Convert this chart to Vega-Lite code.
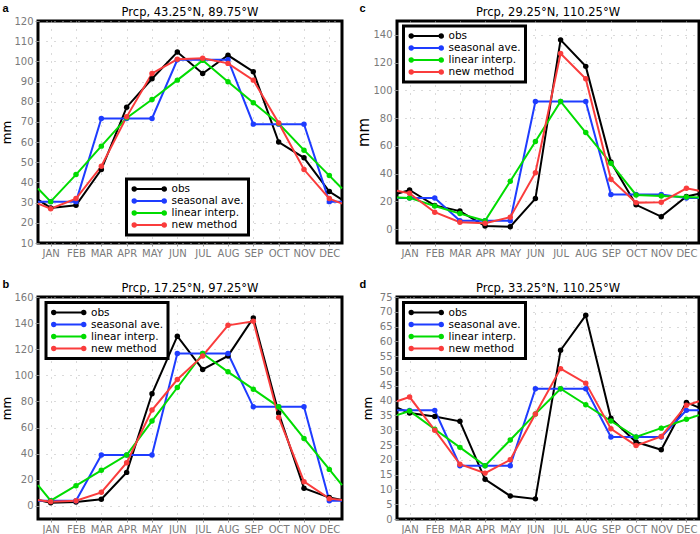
{
  "$schema": "https://vega.github.io/schema/vega-lite/v6.json",
  "padding": {"left": -2, "top": 0, "right": 0, "bottom": 0},
  "background": "white",
  "bounds": "flush",
  "columns": 2,
  "spacing": {"row": 54, "column": 55},
  "datasets": {
    "d": [
      {"p": "a", "m": 0.5, "obs": 31.5, "sea": 30.5, "lin": 37, "new": 29.5},
      {"p": "a", "m": 1, "obs": 27.4, "sea": 30.5, "lin": 30.5, "new": 27},
      {"p": "a", "m": 2, "obs": 28.7, "sea": 30.5, "lin": 43.9, "new": 32},
      {"p": "a", "m": 3, "obs": 46.4, "sea": 71.7, "lin": 58, "new": 48},
      {"p": "a", "m": 4, "obs": 77.3, "sea": 71.7, "lin": 72, "new": 72.5},
      {"p": "a", "m": 5, "obs": 91.4, "sea": 71.7, "lin": 81.1, "new": 94},
      {"p": "a", "m": 6, "obs": 104.6, "sea": 100.8, "lin": 90.7, "new": 101},
      {"p": "a", "m": 7, "obs": 94, "sea": 100.8, "lin": 100.5, "new": 101.5},
      {"p": "a", "m": 8, "obs": 103, "sea": 100.8, "lin": 89.9, "new": 99},
      {"p": "a", "m": 9, "obs": 94.9, "sea": 68.9, "lin": 79.5, "new": 90.7},
      {"p": "a", "m": 10, "obs": 60, "sea": 68.9, "lin": 69.2, "new": 69.5},
      {"p": "a", "m": 11, "obs": 52.2, "sea": 68.9, "lin": 56, "new": 46.4},
      {"p": "a", "m": 12, "obs": 35.5, "sea": 30.5, "lin": 43.4, "new": 32},
      {"p": "a", "m": 12.5, "obs": 31.5, "sea": 30.5, "lin": 37, "new": 29.5},
      {"p": "c", "m": 0.5, "obs": 25.5, "sea": 22.5, "lin": 22.8, "new": 27.6},
      {"p": "c", "m": 1, "obs": 28.2, "sea": 22.5, "lin": 22.5, "new": 25.8},
      {"p": "c", "m": 2, "obs": 17, "sea": 22.5, "lin": 16.7, "new": 12.2},
      {"p": "c", "m": 3, "obs": 13, "sea": 6, "lin": 11.2, "new": 5},
      {"p": "c", "m": 4, "obs": 2.2, "sea": 6, "lin": 6, "new": 4.3},
      {"p": "c", "m": 5, "obs": 1.7, "sea": 6, "lin": 34.5, "new": 8.6},
      {"p": "c", "m": 6, "obs": 22, "sea": 92, "lin": 63.2, "new": 40.7},
      {"p": "c", "m": 7, "obs": 136.4, "sea": 92, "lin": 92, "new": 126.6},
      {"p": "c", "m": 8, "obs": 117.3, "sea": 92, "lin": 69.6, "new": 108.4},
      {"p": "c", "m": 9, "obs": 48.3, "sea": 25, "lin": 47.4, "new": 35.9},
      {"p": "c", "m": 10, "obs": 17.5, "sea": 25, "lin": 24.6, "new": 19.1},
      {"p": "c", "m": 11, "obs": 9, "sea": 25, "lin": 23.9, "new": 19.4},
      {"p": "c", "m": 12, "obs": 23.5, "sea": 22.5, "lin": 23.2, "new": 29.4},
      {"p": "c", "m": 12.5, "obs": 25.5, "sea": 22.5, "lin": 22.8, "new": 27.6},
      {"p": "b", "m": 0.5, "obs": 4.5, "sea": 4, "lin": 16, "new": 4.5},
      {"p": "b", "m": 1, "obs": 2.5, "sea": 4, "lin": 4, "new": 3.3},
      {"p": "b", "m": 2, "obs": 3, "sea": 4, "lin": 15.5, "new": 4},
      {"p": "b", "m": 3, "obs": 5.1, "sea": 39, "lin": 27.3, "new": 10.4},
      {"p": "b", "m": 4, "obs": 25.7, "sea": 39, "lin": 39, "new": 33.1},
      {"p": "b", "m": 5, "obs": 85.9, "sea": 39, "lin": 65, "new": 73.4},
      {"p": "b", "m": 6, "obs": 130, "sea": 116.7, "lin": 90.7, "new": 96.8},
      {"p": "b", "m": 7, "obs": 104.5, "sea": 116.7, "lin": 116.7, "new": 114.9},
      {"p": "b", "m": 8, "obs": 114.9, "sea": 116.7, "lin": 102.7, "new": 138.3},
      {"p": "b", "m": 9, "obs": 144, "sea": 75.9, "lin": 89.4, "new": 141.4},
      {"p": "b", "m": 10, "obs": 71.1, "sea": 75.9, "lin": 75.9, "new": 67.8},
      {"p": "b", "m": 11, "obs": 13.5, "sea": 75.9, "lin": 51.7, "new": 18.6},
      {"p": "b", "m": 12, "obs": 6.4, "sea": 4, "lin": 28, "new": 5.6},
      {"p": "b", "m": 12.5, "obs": 4.5, "sea": 4, "lin": 16, "new": 4.5},
      {"p": "d", "m": 0.5, "obs": 37.6, "sea": 36.7, "lin": 35.1, "new": 39.8},
      {"p": "d", "m": 1, "obs": 35.8, "sea": 36.7, "lin": 36.5, "new": 41.2},
      {"p": "d", "m": 2, "obs": 34.6, "sea": 36.7, "lin": 30.3, "new": 30},
      {"p": "d", "m": 3, "obs": 33, "sea": 18, "lin": 24.2, "new": 18.5},
      {"p": "d", "m": 4, "obs": 13.4, "sea": 18, "lin": 18, "new": 15.5},
      {"p": "d", "m": 5, "obs": 7.8, "sea": 18, "lin": 26.7, "new": 20},
      {"p": "d", "m": 6, "obs": 6.8, "sea": 44, "lin": 35.5, "new": 35.5},
      {"p": "d", "m": 7, "obs": 57, "sea": 44, "lin": 44, "new": 50.8},
      {"p": "d", "m": 8, "obs": 68.8, "sea": 44, "lin": 38.6, "new": 45.9},
      {"p": "d", "m": 9, "obs": 34, "sea": 27.7, "lin": 33.1, "new": 30.5},
      {"p": "d", "m": 10, "obs": 26, "sea": 27.7, "lin": 27.7, "new": 24.8},
      {"p": "d", "m": 11, "obs": 23.4, "sea": 27.7, "lin": 30.7, "new": 27.9},
      {"p": "d", "m": 12, "obs": 39.4, "sea": 36.7, "lin": 33.7, "new": 38.4},
      {"p": "d", "m": 12.5, "obs": 37.6, "sea": 36.7, "lin": 35.1, "new": 39.8}
    ]
  },
  "data": {"name": "d"},
  "transform": [{"fold": ["obs", "sea", "lin", "new"], "as": ["s", "v"]}],
  "concat": [
    {
      "width": 304, "height": 222,
      "title": {"text": "Prcp, 43.25°N, 89.75°W"},
      "transform": [{"filter": "datum.p == 'a'"}],
      "encoding": {
        "x": {"field": "m", "type": "quantitative", "scale": {"domain": [0.5, 12.5], "nice": false, "zero": false},
          "axis": {"values": [1,2,3,4,5,6,7,8,9,10,11,12], "labelExpr": "['','JAN','FEB','MAR','APR','MAY','JUN','JUL','AUG','SEP','OCT','NOV','DEC'][datum.value]",
            "title": "a", "titleX": -36, "titleY": -232, "titleAlign": "left", "titleBaseline": "alphabetic", "titleAngle": 0, "titleFontWeight": "bold", "titleFontSize": 11, "titleFont": "Liberation Sans"}},
        "y": {"field": "v", "type": "quantitative", "scale": {"domain": [10, 120], "nice": false, "zero": false},
          "axis": {"values": [10,20,30,40,50,60,70,80,90,100,110,120], "title": "mm", "titleFontSize": 12, "titleX": -28, "titleBaseline": "alphabetic"}},
        "color": {"field": "s", "type": "nominal", "scale": {"domain": ["obs", "sea", "lin", "new"], "range": ["#000000", "#1e3cff", "#00dc00", "#fa3c3c"]},
          "legend": {"orient": "none", "legendX": 88.5, "legendY": 158, "labelExpr": "{'obs':'obs','sea':'seasonal ave.','lin':'linear interp.','new':'new method'}[datum.value]"}}
      },
      "layer": [
        {"mark": {"type": "line", "strokeWidth": 2}},
        {"transform": [{"filter": "datum.m >= 1 && datum.m <= 12"}], "mark": {"type": "point", "filled": true, "size": 30, "opacity": 1}}
      ]
    },
    {
      "width": 302, "height": 222,
      "title": {"text": "Prcp, 29.25°N, 110.25°W"},
      "transform": [{"filter": "datum.p == 'c'"}],
      "encoding": {
        "x": {"field": "m", "type": "quantitative", "scale": {"domain": [0.5, 12.5], "nice": false, "zero": false},
          "axis": {"values": [1,2,3,4,5,6,7,8,9,10,11,12], "labelExpr": "['','JAN','FEB','MAR','APR','MAY','JUN','JUL','AUG','SEP','OCT','NOV','DEC'][datum.value]",
            "title": "c", "titleX": -38, "titleY": -232, "titleAlign": "left", "titleBaseline": "alphabetic", "titleAngle": 0, "titleFontWeight": "bold", "titleFontSize": 11, "titleFont": "Liberation Sans"}},
        "y": {"field": "v", "type": "quantitative", "scale": {"domain": [-10, 150], "nice": false, "zero": false},
          "axis": {"values": [0,20,40,60,80,100,120,140], "title": "mm", "titleFontSize": 15, "titleX": -29, "titleBaseline": "alphabetic"}},
        "color": {"field": "s", "type": "nominal", "scale": {"domain": ["obs", "sea", "lin", "new"], "range": ["#000000", "#1e3cff", "#00dc00", "#fa3c3c"]},
          "legend": {"orient": "none", "legendX": 6.5, "legendY": 5, "labelExpr": "{'obs':'obs','sea':'seasonal ave.','lin':'linear interp.','new':'new method'}[datum.value]"}}
      },
      "layer": [
        {"mark": {"type": "line", "strokeWidth": 2}},
        {"transform": [{"filter": "datum.m >= 1 && datum.m <= 12"}], "mark": {"type": "point", "filled": true, "size": 30, "opacity": 1}}
      ]
    },
    {
      "width": 304, "height": 222,
      "title": {"text": "Prcp, 17.25°N, 97.25°W"},
      "transform": [{"filter": "datum.p == 'b'"}],
      "encoding": {
        "x": {"field": "m", "type": "quantitative", "scale": {"domain": [0.5, 12.5], "nice": false, "zero": false},
          "axis": {"values": [1,2,3,4,5,6,7,8,9,10,11,12], "labelExpr": "['','JAN','FEB','MAR','APR','MAY','JUN','JUL','AUG','SEP','OCT','NOV','DEC'][datum.value]",
            "title": "b", "titleX": -36, "titleY": -232, "titleAlign": "left", "titleBaseline": "alphabetic", "titleAngle": 0, "titleFontWeight": "bold", "titleFontSize": 11, "titleFont": "Liberation Sans"}},
        "y": {"field": "v", "type": "quantitative", "scale": {"domain": [-10, 160], "nice": false, "zero": false},
          "axis": {"values": [0,20,40,60,80,100,120,140,160], "title": "mm", "titleFontSize": 12, "titleX": -28, "titleBaseline": "alphabetic"}},
        "color": {"field": "s", "type": "nominal", "scale": {"domain": ["obs", "sea", "lin", "new"], "range": ["#000000", "#1e3cff", "#00dc00", "#fa3c3c"]},
          "legend": {"orient": "none", "legendX": 8, "legendY": 5.5, "labelExpr": "{'obs':'obs','sea':'seasonal ave.','lin':'linear interp.','new':'new method'}[datum.value]"}}
      },
      "layer": [
        {"mark": {"type": "line", "strokeWidth": 2}},
        {"transform": [{"filter": "datum.m >= 1 && datum.m <= 12"}], "mark": {"type": "point", "filled": true, "size": 30, "opacity": 1}}
      ]
    },
    {
      "width": 302, "height": 222,
      "title": {"text": "Prcp, 33.25°N, 110.25°W"},
      "transform": [{"filter": "datum.p == 'd'"}],
      "encoding": {
        "x": {"field": "m", "type": "quantitative", "scale": {"domain": [0.5, 12.5], "nice": false, "zero": false},
          "axis": {"values": [1,2,3,4,5,6,7,8,9,10,11,12], "labelExpr": "['','JAN','FEB','MAR','APR','MAY','JUN','JUL','AUG','SEP','OCT','NOV','DEC'][datum.value]",
            "title": "d", "titleX": -38, "titleY": -232, "titleAlign": "left", "titleBaseline": "alphabetic", "titleAngle": 0, "titleFontWeight": "bold", "titleFontSize": 11, "titleFont": "Liberation Sans"}},
        "y": {"field": "v", "type": "quantitative", "scale": {"domain": [0, 75], "nice": false, "zero": false},
          "axis": {"values": [0,5,10,15,20,25,30,35,40,45,50,55,60,65,70,75], "title": "mm", "titleFontSize": 12, "titleX": -26, "titleBaseline": "alphabetic"}},
        "color": {"field": "s", "type": "nominal", "scale": {"domain": ["obs", "sea", "lin", "new"], "range": ["#000000", "#1e3cff", "#00dc00", "#fa3c3c"]},
          "legend": {"orient": "none", "legendX": 6.5, "legendY": 5.5, "labelExpr": "{'obs':'obs','sea':'seasonal ave.','lin':'linear interp.','new':'new method'}[datum.value]"}}
      },
      "layer": [
        {"mark": {"type": "line", "strokeWidth": 2}},
        {"transform": [{"filter": "datum.m >= 1 && datum.m <= 12"}], "mark": {"type": "point", "filled": true, "size": 30, "opacity": 1}}
      ]
    }
  ],
  "resolve": {"scale": {"color": "independent"}, "legend": {"color": "independent"}},
  "config": {
    "view": {"stroke": "black", "strokeWidth": 3},
    "axis": {"domain": false, "grid": true, "gridColor": "#b4b4b4", "gridDash": [1, 7], "gridWidth": 1, "ticks": true, "tickColor": "#909090", "tickSize": 3, "labelColor": "#7a7a7a", "labelFont": "DejaVu Sans", "labelFontSize": 10, "labelPadding": 2, "titleFont": "DejaVu Sans", "titleFontWeight": "normal", "titleColor": "black"},
    "legend": {"title": null, "strokeColor": "black", "strokeWidth": 3, "fillColor": "white", "padding": 4, "labelFont": "DejaVu Sans", "labelFontSize": 10.5, "labelColor": "black", "labelOffset": 29,
      "symbolType": "M-0.45,0L5.55,0M-0.8,0A0.35,0.35 0 1,0 -0.1,0A0.35,0.35 0 1,0 -0.8,0M5.2,0A0.35,0.35 0 1,0 5.9,0A0.35,0.35 0 1,0 5.2,0",
      "symbolSize": 100, "symbolStrokeWidth": 2, "rowPadding": 0},
    "title": {"font": "DejaVu Sans", "fontSize": 11.5, "fontWeight": "normal", "color": "black", "offset": -16, "baseline": "alphabetic"}
  }
}
